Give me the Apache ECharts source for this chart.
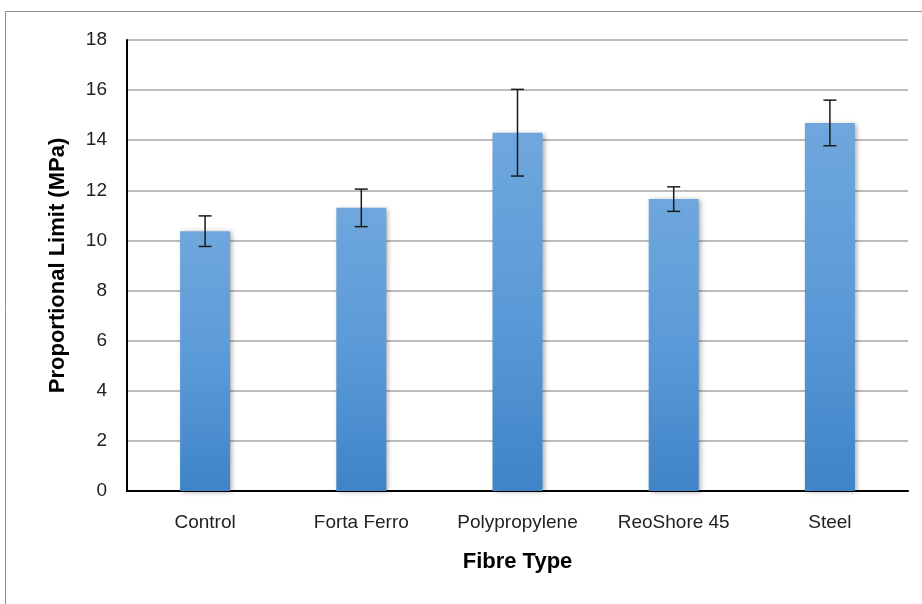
<!DOCTYPE html>
<html>
<head>
<meta charset="utf-8">
<script src="https://cdn.jsdelivr.net/npm/echarts@6/dist/echarts.min.js"></script>
<style>
  html, body { margin: 0; padding: 0; background: #fff; }
  #chart { width: 922px; height: 604px; }
</style>
</head>
<body>
<div id="chart"></div>
<script>
// Proportional limit per fibre type, with standard deviation error bars
const fibreTypes = ['Control', 'Forta Ferro', 'Polypropylene', 'ReoShore 45', 'Steel'];
const meanValues = [10.37, 11.30, 14.30, 11.65, 14.69];
const errorValues = [0.61, 0.75, 1.73, 0.49, 0.91];
const yTicks = [0, 2, 4, 6, 8, 10, 12, 14, 16, 18];

const FONT = '"Liberation Sans", Arial, sans-serif';

const errorData = fibreTypes.map((name, i) => [i, meanValues[i] - errorValues[i], meanValues[i] + errorValues[i]]);

const chart = echarts.init(document.getElementById('chart'));
chart.setOption({
  animation: false,
  backgroundColor: '#ffffff',
  graphic: [{
    type: 'rect',
    shape: { x: 5.5, y: 11.5, width: 930, height: 620 },
    style: { fill: 'none', stroke: '#8c8c8c', lineWidth: 1 },
    silent: true,
    z: -1
  }],
  grid: { left: 127, right: 14, top: 40, bottom: 113, containLabel: false },
  xAxis: {
    type: 'category',
    data: fibreTypes,
    name: 'Fibre Type',
    nameLocation: 'middle',
    nameGap: 60,
    nameTextStyle: { fontFamily: FONT, fontSize: 22, fontWeight: 'bold', color: '#000' },
    axisLine: { lineStyle: { color: '#000', width: 2 } },
    axisTick: { show: false },
    axisLabel: { fontFamily: FONT, fontSize: 19, color: '#222', margin: 22, interval: 0 }
  },
  yAxis: {
    type: 'value',
    min: yTicks[0],
    max: yTicks[yTicks.length - 1],
    interval: 2,
    name: 'Proportional Limit (MPa)',
    nameLocation: 'middle',
    nameGap: 58,
    nameTextStyle: { fontFamily: FONT, fontSize: 22, fontWeight: 'bold', color: '#000' },
    axisLine: { show: true, lineStyle: { color: '#000', width: 2 } },
    axisTick: { show: false },
    splitLine: { lineStyle: { color: '#a6a6a6', width: 1.5 } },
    axisLabel: { fontFamily: FONT, fontSize: 19, color: '#222', margin: 20 }
  },
  series: [
    {
      type: 'bar',
      data: meanValues,
      barWidth: 50,
      itemStyle: {
        color: new echarts.graphic.LinearGradient(0, 0, 0, 1, [
          { offset: 0, color: '#6fa7dd' },
          { offset: 0.5, color: '#5b9ad8' },
          { offset: 1, color: '#3f84c7' }
        ]),
        shadowColor: 'rgba(0,0,0,0.35)',
        shadowBlur: 5,
        shadowOffsetX: 2,
        shadowOffsetY: 1
      }
    },
    {
      type: 'custom',
      data: errorData,
      z: 10,
      renderItem: function (params, api) {
        const x = api.value(0);
        const lo = api.coord([x, api.value(1)]);
        const hi = api.coord([x, api.value(2)]);
        const half = 6.5;
        const style = { stroke: '#1a1a1a', lineWidth: 1.5 };
        return {
          type: 'group',
          children: [
            { type: 'line', shape: { x1: hi[0], y1: hi[1], x2: lo[0], y2: lo[1] }, style: style },
            { type: 'line', shape: { x1: hi[0] - half, y1: hi[1], x2: hi[0] + half, y2: hi[1] }, style: style },
            { type: 'line', shape: { x1: lo[0] - half, y1: lo[1], x2: lo[0] + half, y2: lo[1] }, style: style }
          ]
        };
      }
    }
  ]
});
</script>
</body>
</html>
